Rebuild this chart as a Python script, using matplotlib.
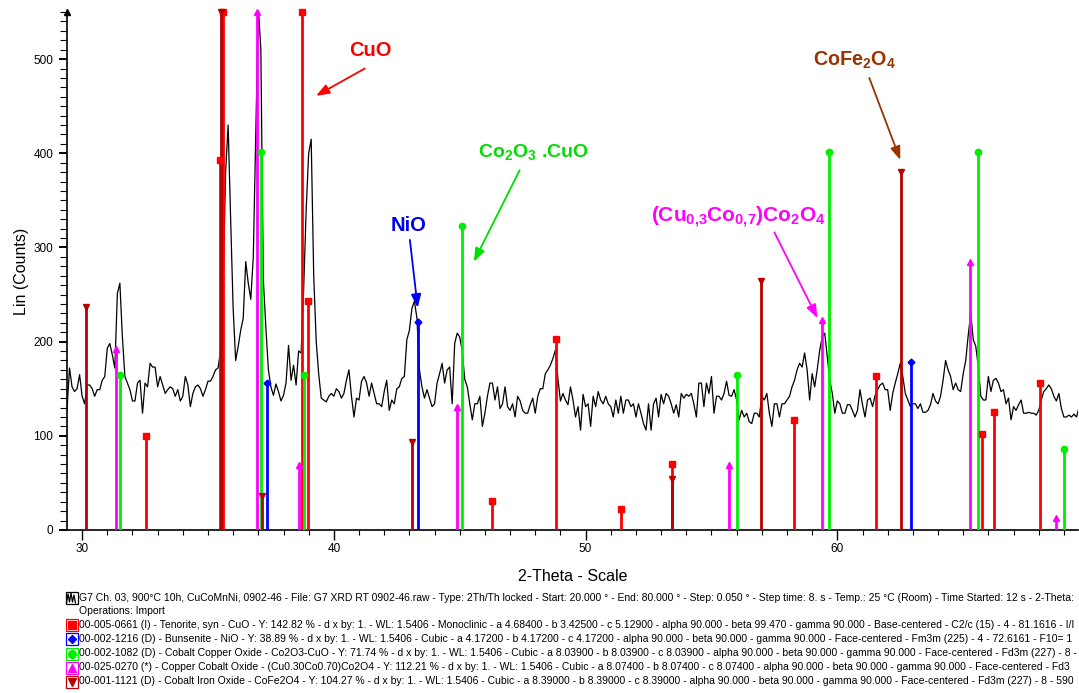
import numpy as np
import matplotlib
matplotlib.use("Agg")
import matplotlib.pyplot as plt
from matplotlib.patches import Rectangle

plt.rcParams['font.family'] = ['Liberation Sans', 'DejaVu Sans']
plt.rcParams['mathtext.fontset'] = 'custom'
plt.rcParams['mathtext.rm'] = 'Liberation Sans'
plt.rcParams['mathtext.bf'] = 'Liberation Sans:bold'
plt.rcParams['mathtext.it'] = 'Liberation Sans:italic'

# ---------------- data ----------------
scan_start = 29.4
scan_step = 0.1
counts = [
    128, 172, 152, 147, 150, 165,
    142, 134, 154, 154, 150, 142, 149, 149, 159, 163,
    193, 198, 186, 172, 251, 262, 205, 163, 156, 149,
    137, 137, 156, 159, 124, 156, 152, 177, 173, 173,
    152, 163, 154, 145, 149, 152, 150, 142, 149, 137,
    142, 163, 154, 131, 145, 152, 154, 150, 142, 149,
    158, 158, 163, 170, 172, 190, 260, 380, 430, 330,
    235, 180, 195, 212, 225, 285, 262, 245, 290, 420,
    555, 510, 265, 215, 170, 152, 143, 155, 147, 137,
    143, 156, 196, 159, 175, 154, 190, 188, 255, 340,
    400, 415, 270, 200, 165, 140, 138, 136, 142, 145,
    142, 150, 147, 140, 145, 159, 170, 142, 120, 140,
    138, 158, 163, 156, 142, 156, 145, 134, 134, 131,
    147, 159, 127, 138, 134, 150, 152, 161, 163, 202,
    212, 235, 243, 225, 170, 152, 140, 149, 140, 131,
    134, 156, 166, 177, 156, 170, 173, 134, 198, 209,
    205, 190, 160, 152, 134, 117, 134, 134, 142, 110,
    124, 142, 156, 156, 138, 152, 129, 134, 152, 131,
    127, 134, 120, 142, 137, 127, 124, 124, 133, 140,
    124, 142, 150, 150, 166, 170, 175, 182, 191, 161,
    137, 145, 138, 133, 152, 138, 120, 131, 106, 144,
    131, 134, 110, 142, 131, 147, 138, 134, 142, 134,
    131, 120, 138, 124, 142, 124, 138, 138, 131, 134,
    120, 134, 124, 113, 106, 134, 106, 134, 140, 120,
    144, 134, 145, 142, 134, 124, 133, 120, 145, 140,
    144, 142, 145, 134, 120, 156, 156, 131, 156, 145,
    163, 124, 142, 142, 138, 145, 158, 143, 142, 149,
    138, 117, 127, 120, 124, 115, 113, 124, 124, 120,
    142, 138, 145, 124, 110, 134, 134, 120, 134, 134,
    138, 142, 152, 159, 170, 177, 173, 188, 170, 138,
    166, 152, 170, 191, 205, 209, 184, 159, 145, 124,
    137, 134, 124, 124, 133, 133, 127, 120, 127, 149,
    133, 120, 138, 140, 131, 143, 149, 154, 156, 149,
    149, 127, 145, 156, 166, 177, 163, 145, 138, 131,
    134, 134, 129, 134, 125, 125, 127, 133, 145, 137,
    134, 142, 159, 180, 170, 163, 149, 156, 149, 147,
    166, 180, 207, 230, 202, 195, 173, 142, 138, 138,
    163, 147, 159, 161, 156, 147, 149, 134, 140, 117,
    131, 127, 133, 138, 124, 124, 125, 124, 124, 122,
    127, 138, 147, 150, 154, 150, 142, 137, 145, 129,
    120, 120, 122, 120, 123, 120, 130,
]

# reference patterns (2-theta, intensity in counts; 550 = clipped at top)
cuo_pos = [32.55, 35.46, 35.58, 38.75, 38.99, 46.27, 48.81, 51.39, 53.45, 58.29, 61.55, 65.75, 66.23, 68.06]
cuo_int = [100, 393, 550, 550, 243, 31, 203, 22, 70, 117, 163, 102, 125, 156]
nio_pos = [37.34, 43.33, 62.94]
nio_int = [156, 221, 178]
co2o3_pos = [31.51, 37.10, 38.81, 45.08, 56.00, 59.68, 65.60, 69.00]
co2o3_int = [165, 401, 165, 323, 165, 401, 401, 86]
cucoo_pos = [31.35, 36.94, 38.61, 44.88, 55.71, 59.40, 65.28, 68.69]
cucoo_int = [192, 550, 69, 131, 69, 223, 285, 13]
cofe_pos = [30.16, 35.52, 37.14, 43.10, 53.45, 56.98, 62.54]
cofe_int = [237, 550, 36, 93, 54, 264, 380]

legend_lines = [
    "G7 Ch. 03, 900°C 10h, CuCoMnNi, 0902-46 - File: G7 XRD RT 0902-46.raw - Type: 2Th/Th locked - Start: 20.000 ° - End: 80.000 ° - Step: 0.050 ° - Step time: 8. s - Temp.: 25 °C (Room) - Time Started: 12 s - 2-Theta:",
    "Operations: Import",
    "00-005-0661 (I) - Tenorite, syn - CuO - Y: 142.82 % - d x by: 1. - WL: 1.5406 - Monoclinic - a 4.68400 - b 3.42500 - c 5.12900 - alpha 90.000 - beta 99.470 - gamma 90.000 - Base-centered - C2/c (15) - 4 - 81.1616 - I/I",
    "00-002-1216 (D) - Bunsenite - NiO - Y: 38.89 % - d x by: 1. - WL: 1.5406 - Cubic - a 4.17200 - b 4.17200 - c 4.17200 - alpha 90.000 - beta 90.000 - gamma 90.000 - Face-centered - Fm3m (225) - 4 - 72.6161 - F10= 1",
    "00-002-1082 (D) - Cobalt Copper Oxide - Co2O3-CuO - Y: 71.74 % - d x by: 1. - WL: 1.5406 - Cubic - a 8.03900 - b 8.03900 - c 8.03900 - alpha 90.000 - beta 90.000 - gamma 90.000 - Face-centered - Fd3m (227) - 8 -",
    "00-025-0270 (*) - Copper Cobalt Oxide - (Cu0.30Co0.70)Co2O4 - Y: 112.21 % - d x by: 1. - WL: 1.5406 - Cubic - a 8.07400 - b 8.07400 - c 8.07400 - alpha 90.000 - beta 90.000 - gamma 90.000 - Face-centered - Fd3",
    "00-001-1121 (D) - Cobalt Iron Oxide - CoFe2O4 - Y: 104.27 % - d x by: 1. - WL: 1.5406 - Cubic - a 8.39000 - b 8.39000 - c 8.39000 - alpha 90.000 - beta 90.000 - gamma 90.000 - Face-centered - Fd3m (227) - 8 - 590",
]

# ---------------- figure ----------------
W, H = 1079, 693
fig = plt.figure(figsize=(W / 100, H / 100), dpi=100)
ax_l, ax_r, ax_t, ax_b = 66.5, 1078, 12, 530
ax = fig.add_axes([ax_l / W, 1 - ax_b / H, (ax_r - ax_l) / W, (ax_b - ax_t) / H])

XMIN, XMAX, YMAX = 29.38, 69.56, 550
two_theta = scan_start + scan_step * np.arange(len(counts))
ax.plot(two_theta, counts, color='black', lw=0.9, zorder=2)

RED, BLUE, GREEN, MAG, DRED = '#FF0000', '#0000FF', '#00EE00', '#FF00FF', '#B80000'
phases = [
    (cuo_pos, cuo_int, RED, 's', 4.5),
    (nio_pos, nio_int, BLUE, 'D', 3.5),
    (co2o3_pos, co2o3_int, GREEN, 'o', 4.5),
    (cucoo_pos, cucoo_int, MAG, '^', 4.5),
    (cofe_pos, cofe_int, DRED, 'v', 4.5),
]
for pos, inten, col, mk, ms in phases:
    inten = np.minimum(inten, YMAX)
    ax.vlines(pos, 0, inten, colors=col, lw=2.0, zorder=3)
    ax.plot(pos, inten, ls='none', marker=mk, color=col, ms=ms, zorder=4, clip_on=False)

ax.set_xlim(XMIN, XMAX)
ax.set_ylim(0, YMAX)
ax.set_xticks([30, 40, 50, 60])
ax.set_xticks(np.arange(30, 70, 1), minor=True)
ax.set_yticks([0, 100, 200, 300, 400, 500])
ax.set_yticks(np.arange(0, 551, 10), minor=True)
ax.tick_params(axis='x', which='major', length=7.2, width=1, direction='out', labelsize=8.5, pad=2)
ax.tick_params(axis='x', which='minor', length=3.6, width=0.8, direction='out')
ax.tick_params(axis='y', which='major', length=5.5, width=1.4, direction='out', labelsize=8.5, pad=4)
ax.tick_params(axis='y', which='minor', length=4.8, width=0.8, direction='out')
for s in ['top', 'right']:
    ax.spines[s].set_visible(False)
for s in ['left', 'bottom']:
    ax.spines[s].set_linewidth(1.2)
ax.plot([0], [1.0], marker='^', color='black', ms=5, transform=ax.transAxes, clip_on=False, zorder=5)

ax.set_ylabel('Lin (Counts)', fontsize=11.5, labelpad=3)
ax.set_xlabel('2-Theta - Scale', fontsize=11.5, labelpad=10)

# ---------------- annotations ----------------
def note(text, txy, head, tail, color, size=14.5):
    ax.text(txy[0], txy[1], text, color=color, fontsize=size, fontweight='bold',
            ha='center', va='center', zorder=6)
    ax.annotate('', xy=head, xytext=tail,
                arrowprops=dict(arrowstyle='-|>,head_length=0.8,head_width=0.3', color=color,
                                lw=1.3, shrinkA=0, shrinkB=0), zorder=6)

note('CuO', (41.47, 509), (39.29, 461), (41.23, 490), '#FF0000')
note('Co$_\\mathbf{2}$O$_\\mathbf{3}$ .CuO', (47.94, 401), (45.56, 285), (47.38, 382), '#00DD00', size=14)
note('NiO', (42.98, 323), (43.33, 236), (43.02, 308), '#0000EE')
note('(Cu$_\\mathbf{0{,}3}$Co$_\\mathbf{0{,}7}$)Co$_\\mathbf{2}$O$_\\mathbf{4}$', (56.07, 332), (59.21, 225), (57.5, 316), '#FF00FF', size=15)
note('CoFe$_\\mathbf{2}$O$_\\mathbf{4}$', (60.67, 499), (62.5, 393), (61.27, 480), '#993300', size=14.2)

# ---------------- legend block ----------------
ys = [598, 611.5, 625, 639, 653.5, 667.5, 681.5]
for i, (txt, y) in enumerate(zip(legend_lines, ys)):
    fig.text(79 / W, 1 - y / H, txt, fontsize=7.45, ha='left', va='center', color='black')

icons = [(0, 'black', None), (2, RED, 's'), (3, BLUE, 'D'), (4, GREEN, 'o'), (5, MAG, '^'), (6, DRED, 'v')]
for idx, col, mk in icons:
    y = ys[idx]
    rect = Rectangle(((65.5) / W, 1 - (y + 6) / H), 12 / W, 12 / H, transform=fig.transFigure,
                     fill=False, edgecolor=col, lw=0.9)
    fig.add_artist(rect)
    if mk is None:
        xs = np.array([66.5, 68, 69.5, 71, 72.5, 74, 75.5]) / W
        yy = 1 - (y + np.array([5, -4, 4, -5, 4, -3, 5])) / H
        fig.add_artist(plt.Line2D(xs, yy, color='black', lw=0.9, transform=fig.transFigure))
    else:
        fig.add_artist(plt.Line2D([71.5 / W], [1 - y / H], marker=mk, color=col, ms=5.5 if mk != 'D' else 4.5,
                                  ls='none', transform=fig.transFigure))

fig.savefig('out.png', dpi=100)
